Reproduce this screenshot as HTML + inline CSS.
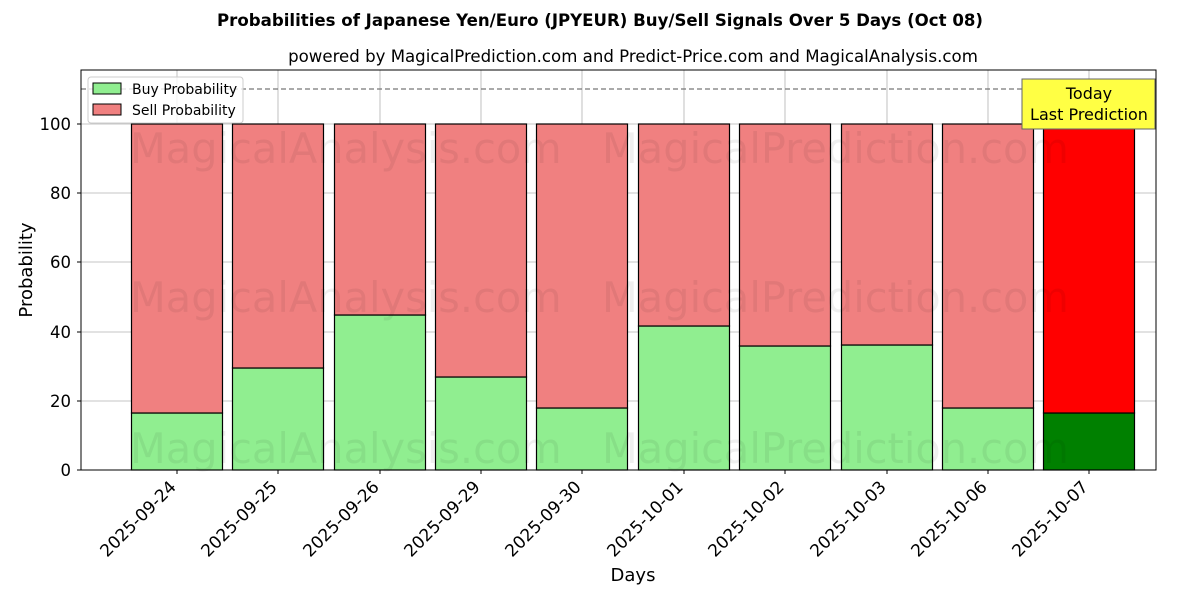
<!DOCTYPE html>
<html><head><meta charset="utf-8"><style>body{margin:0;background:#fff}</style></head><body>
<svg width="1200" height="600" xmlns="http://www.w3.org/2000/svg" font-family="'DejaVu Sans','Liberation Sans',sans-serif">
<rect width="1200" height="600" fill="#fff"/>
<text x="600" y="26" text-anchor="middle" font-size="16.6" font-weight="bold">Probabilities of Japanese Yen/Euro (JPYEUR) Buy/Sell Signals Over 5 Days (Oct 08)</text>
<text x="633" y="62" text-anchor="middle" font-size="16.6">powered by MagicalPrediction.com and Predict-Price.com and MagicalAnalysis.com</text>
<g stroke="#b0b0b0" stroke-width="0.8">
<line x1="81" x2="1156" y1="470" y2="470"/><line x1="81" x2="1156" y1="401" y2="401"/><line x1="81" x2="1156" y1="332" y2="332"/><line x1="81" x2="1156" y1="262" y2="262"/><line x1="81" x2="1156" y1="193" y2="193"/><line x1="81" x2="1156" y1="124" y2="124"/>
<line x1="177" x2="177" y1="70" y2="470"/><line x1="278" x2="278" y1="70" y2="470"/><line x1="380" x2="380" y1="70" y2="470"/><line x1="481" x2="481" y1="70" y2="470"/><line x1="582" x2="582" y1="70" y2="470"/><line x1="684" x2="684" y1="70" y2="470"/><line x1="785" x2="785" y1="70" y2="470"/><line x1="887" x2="887" y1="70" y2="470"/><line x1="988" x2="988" y1="70" y2="470"/><line x1="1089" x2="1089" y1="70" y2="470"/>
</g>
<g stroke="#000" stroke-width="1.2">
<rect x="131.5" y="413" width="91" height="57" fill="#90ee90"/><rect x="131.5" y="124" width="91" height="289" fill="#f08080"/>
<rect x="232.5" y="368" width="91" height="102" fill="#90ee90"/><rect x="232.5" y="124" width="91" height="244" fill="#f08080"/>
<rect x="334.5" y="315" width="91" height="155" fill="#90ee90"/><rect x="334.5" y="124" width="91" height="191" fill="#f08080"/>
<rect x="435.5" y="377" width="91" height="93" fill="#90ee90"/><rect x="435.5" y="124" width="91" height="253" fill="#f08080"/>
<rect x="536.5" y="408" width="91" height="62" fill="#90ee90"/><rect x="536.5" y="124" width="91" height="284" fill="#f08080"/>
<rect x="638.5" y="326" width="91" height="144" fill="#90ee90"/><rect x="638.5" y="124" width="91" height="202" fill="#f08080"/>
<rect x="739.5" y="346" width="91" height="124" fill="#90ee90"/><rect x="739.5" y="124" width="91" height="222" fill="#f08080"/>
<rect x="841.5" y="345" width="91" height="125" fill="#90ee90"/><rect x="841.5" y="124" width="91" height="221" fill="#f08080"/>
<rect x="942.5" y="408" width="91" height="62" fill="#90ee90"/><rect x="942.5" y="124" width="91" height="284" fill="#f08080"/>
<rect x="1043.5" y="413" width="91" height="57" fill="#008000"/><rect x="1043.5" y="124" width="91" height="289" fill="#ff0000"/>
</g>
<g font-size="41.5" fill="#000" opacity="0.06">
<text x="130" y="163">MagicalAnalysis.com</text><text x="602" y="163">MagicalPrediction.com</text>
<text x="130" y="312">MagicalAnalysis.com</text><text x="602" y="312">MagicalPrediction.com</text>
<text x="130" y="463">MagicalAnalysis.com</text><text x="602" y="463">MagicalPrediction.com</text>
</g>
<line x1="81" x2="1156" y1="89" y2="89" stroke="#777" stroke-dasharray="5,3" stroke-width="1.2"/>
<rect x="1022" y="79" width="133" height="50" fill="#ffff44" stroke="#666" stroke-width="1"/>
<text x="1089" y="99" text-anchor="middle" font-size="16">Today</text>
<text x="1089" y="120" text-anchor="middle" font-size="16">Last Prediction</text>
<rect x="81" y="70" width="1075" height="400" fill="none" stroke="#000" stroke-width="1"/>
<g font-size="16.5" text-anchor="end">
<text x="71" y="476">0</text><text x="71" y="407">20</text><text x="71" y="338">40</text><text x="71" y="268">60</text><text x="71" y="199">80</text><text x="71" y="130">100</text>
</g>
<g stroke="#000"><line x1="77" x2="81" y1="470" y2="470"/><line x1="77" x2="81" y1="401" y2="401"/><line x1="77" x2="81" y1="332" y2="332"/><line x1="77" x2="81" y1="262" y2="262"/><line x1="77" x2="81" y1="193" y2="193"/><line x1="77" x2="81" y1="124" y2="124"/>
<line x1="177" x2="177" y1="470" y2="474"/><line x1="278" x2="278" y1="470" y2="474"/><line x1="380" x2="380" y1="470" y2="474"/><line x1="481" x2="481" y1="470" y2="474"/><line x1="582" x2="582" y1="470" y2="474"/><line x1="684" x2="684" y1="470" y2="474"/><line x1="785" x2="785" y1="470" y2="474"/><line x1="887" x2="887" y1="470" y2="474"/><line x1="988" x2="988" y1="470" y2="474"/><line x1="1089" x2="1089" y1="470" y2="474"/></g>
<g font-size="17" text-anchor="end">
<text transform="translate(177,488) rotate(-45)">2025-09-24</text>
<text transform="translate(278,488) rotate(-45)">2025-09-25</text>
<text transform="translate(380,488) rotate(-45)">2025-09-26</text>
<text transform="translate(481,488) rotate(-45)">2025-09-29</text>
<text transform="translate(582,488) rotate(-45)">2025-09-30</text>
<text transform="translate(684,488) rotate(-45)">2025-10-01</text>
<text transform="translate(785,488) rotate(-45)">2025-10-02</text>
<text transform="translate(887,488) rotate(-45)">2025-10-03</text>
<text transform="translate(988,488) rotate(-45)">2025-10-06</text>
<text transform="translate(1089,488) rotate(-45)">2025-10-07</text>
</g>
<text x="633" y="581" text-anchor="middle" font-size="18">Days</text>
<text transform="translate(32,270) rotate(-90)" text-anchor="middle" font-size="18">Probability</text>
<rect x="88" y="77" width="155" height="46" fill="#fff" fill-opacity="0.8" stroke="#ccc" rx="3"/>
<rect x="93" y="83" width="28" height="11" fill="#90ee90" stroke="#000"/>
<rect x="93" y="104" width="28" height="11" fill="#f08080" stroke="#000"/>
<text x="132" y="94" font-size="14">Buy Probability</text>
<text x="132" y="115" font-size="14">Sell Probability</text>
</svg>
</body></html>
